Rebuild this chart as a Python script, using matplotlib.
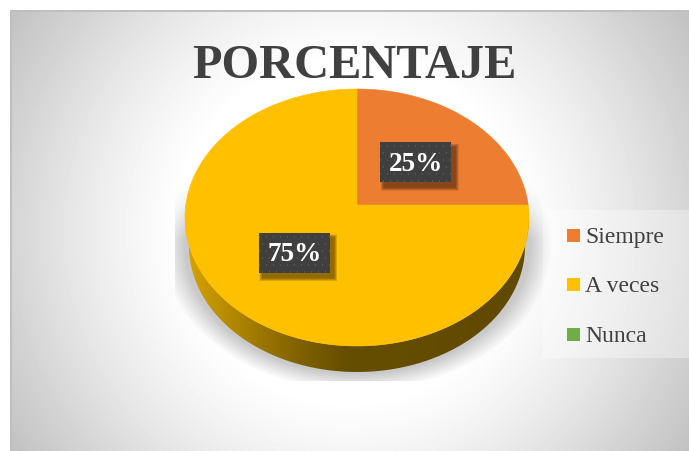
import numpy as np
import matplotlib
matplotlib.use("Agg")
import matplotlib.pyplot as plt
from matplotlib.patches import Polygon, Rectangle

plt.rcParams['font.family'] = ['Liberation Serif', 'DejaVu Serif']

# datos
categories = ['Siempre', 'A veces', 'Nunca']
values = [25, 75, 0]
colors = ['#ED7D31', '#FFC000', '#70AD47']
title = 'PORCENTAJE'

W, H = 689, 452
fig = plt.figure(figsize=(W / 100, H / 100), dpi=100, facecolor='white')
ax = fig.add_axes([0, 0, 1, 1])

# pie first, it gives the angles of each wedge
wedges, _ = ax.pie(values, colors=colors, startangle=90, counterclock=False)
angles = [(w.theta1, w.theta2) for w in wedges]
for w in wedges:
    w.remove()
ax.set_aspect('auto')
ax.axis('off')

# tilted pie: ellipse with the centre moved up (perspective)
cx, cy, rx, ry = 357, 218.5, 172, 128.5
tilt = 12.5 / 128.5


def warp(x, y):
    den = 1 + tilt * y
    return cx + rx * x * np.sqrt(1 - tilt ** 2) / den, cy - ry * (y + tilt) / den


# background gradient, round around the middle
xx, yy = np.meshgrid(np.arange(10, W) + 0.5, np.arange(11, H) + 0.5)
rr = np.hypot(xx - 350, yy - 232)
gray = np.interp(rr, [0, 170, 220, 280, 340, 405], [255, 255, 245, 230, 212, 193])
ax.imshow(gray, cmap='gray', vmin=0, vmax=255, extent=(10, W, H, 11),
          aspect='auto', zorder=0, interpolation='bilinear')
ax.add_patch(Rectangle((9.5, 11), W, 1.8, fc='#bfbfbf', lw=0, zorder=1))
ax.add_patch(Rectangle((9.5, 11), 2, H, fc='#bfbfbf', lw=0, zorder=1))

# soft shadow under the pie, cut off at the bottom and left
sx, sy = np.meshgrid(np.arange(175, 552) + 0.5, np.arange(170, 382) + 0.5)
dist = (np.sqrt(((sx - 357) / 172) ** 2 + ((sy - 247) / 128) ** 2) - 1) * 150
shadow = np.zeros(sx.shape + (4,))
shadow[..., :3] = 0.3
shadow[..., 3] = 0.3 * np.clip(1 - dist / 20, 0, 1) * np.clip((sy - 180) / 60, 0, 1)
ax.imshow(shadow, extent=(175, 552, 382, 170), aspect='auto', zorder=2)

# legend panel
ax.add_patch(Rectangle((543, 211), W - 543, 148, fc='white', alpha=0.35, lw=0, zorder=3))

# side wall with horizontal gradient
t = np.linspace(np.pi, 2 * np.pi, 200)
top_x, top_y = cx + rx * np.cos(t), cy - ry * np.sin(t)
bot_x, bot_y = cx + 168 * np.cos(t), 247 - 126 * np.sin(t)
wall = Polygon(np.r_[np.c_[top_x, top_y], np.c_[bot_x, bot_y][::-1]], closed=True,
               fc='none', lw=0, transform=ax.transData)
ax.add_patch(wall)
stops_x = [185, 215, 260, 300, 345, 529]
stops_c = np.array([[0xd8, 0xa4, 0x00], [0xc0, 0x92, 0x00], [0x9c, 0x77, 0x00],
                    [0x80, 0x61, 0x00], [0x66, 0x4e, 0x00], [0x60, 0x49, 0x00]]) / 255
gx = np.arange(185, 530)
grad = np.stack([np.interp(gx, stops_x, stops_c[:, i]) for i in range(3)], axis=-1)[None, :, :]
im = ax.imshow(grad, extent=(185, 530, 380, 200), aspect='auto', zorder=4)
im.set_clip_path(wall)

# top face
for (t1, t2), col in zip(angles, colors):
    if t2 - t1 <= 0:
        continue
    a = np.radians(np.linspace(t1, t2, 240))
    px = np.r_[0, np.cos(a)]
    py = np.r_[0, np.sin(a)]
    fx, fy = warp(px, py)
    ax.add_patch(Polygon(np.c_[fx, fy], closed=True, fc=col, ec=col, lw=0.4, zorder=5))

# dotted fill of the label boxes
bw, bh = 71, 40
dots = np.full((bh, bw), 0x40, dtype=float)
for row in range(3, bh, 7):
    shift = 3 if (row // 7) % 2 else 0
    dots[row:row + 2, np.r_[shift:bw:7]] = 0x56

# data labels
total = sum(values)
for (t1, t2), val in zip(angles, values):
    if val == 0:
        continue
    mid = np.radians((t1 + t2) / 2)
    lx, ly = warp(0.5 * np.cos(mid), 0.5 * np.sin(mid))
    ly += 1
    for k in range(7):
        grow = 7 - k
        ax.add_patch(Rectangle((lx - bw / 2 + 4 - grow / 2, ly - bh / 2 + 5 - grow / 2),
                               bw + grow, bh + grow, fc='black', alpha=0.075, lw=0, zorder=6))
    ax.imshow(dots, cmap='gray', vmin=0, vmax=255, aspect='auto', zorder=7,
              extent=(lx - bw / 2, lx + bw / 2, ly + bh / 2, ly - bh / 2))
    ax.text(lx, ly + 1, f'{val / total:.0%}', color='white', fontsize=19.5, fontweight='bold',
            ha='center', va='center', zorder=8)

# title
ax.text(354, 77.5, title, color='#404040', fontsize=34.8, fontweight='bold',
        ha='center', va='baseline', zorder=8)

# legend
for name, col, ly in zip(categories, colors, [243.3, 292.2, 341.7]):
    ax.add_patch(Rectangle((567, ly - 13), 13, 13, fc=col, lw=0, zorder=8))
    ax.text(585, ly, name, color='#404040', fontsize=17, ha='left', va='baseline', zorder=8)

ax.set_xlim(0, W)
ax.set_ylim(H, 0)
fig.savefig('out.png', dpi=100)
